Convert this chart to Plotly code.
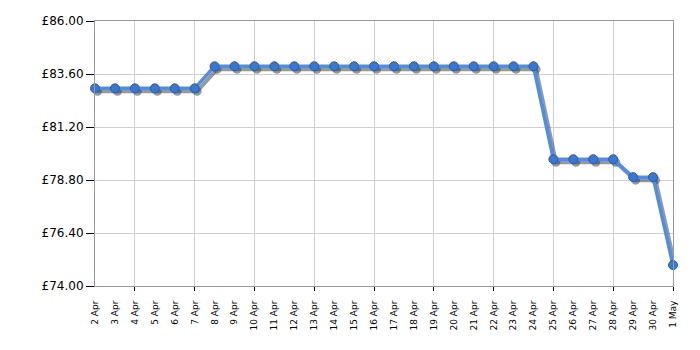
import plotly.graph_objects as go

dates = ["2 Apr", "3 Apr", "4 Apr", "5 Apr", "6 Apr", "7 Apr", "8 Apr", "9 Apr", "10 Apr",
         "11 Apr", "12 Apr", "13 Apr", "14 Apr", "15 Apr", "16 Apr", "17 Apr", "18 Apr",
         "19 Apr", "20 Apr", "21 Apr", "22 Apr", "23 Apr", "24 Apr", "25 Apr", "26 Apr",
         "27 Apr", "28 Apr", "29 Apr", "30 Apr", "1 May"]
prices = [82.95, 82.95, 82.95, 82.95, 82.95, 82.95,
          83.95, 83.95, 83.95, 83.95, 83.95, 83.95, 83.95, 83.95, 83.95, 83.95, 83.95,
          83.95, 83.95, 83.95, 83.95, 83.95, 83.95,
          79.74, 79.74, 79.74, 79.74,
          78.93, 78.93,
          74.95]
y_min, y_max, y_step = 74.0, 86.0, 2.4
grid_every = 3

idx = list(range(len(dates)))
x_max = len(dates) - 1

W, H = 700, 350
ml, mr, mt, mb = 95, 27, 21, 64
pw, ph = W - ml - mr, H - mt - mb
sx, sy = 2.5, 3.0  # shadow offset in px
dx = sx * x_max / pw
dy = sy * (y_max - y_min) / ph

font = "DejaVu Sans, Verdana, sans-serif"

fig = go.Figure()
# main subplot (grid / axes) - invisible carrier trace
fig.add_trace(go.Scatter(x=idx, y=prices, mode="lines", line=dict(width=0), opacity=0,
                         hoverinfo="skip", showlegend=False, xaxis="x", yaxis="y"))
# shadow
fig.add_trace(go.Scatter(x=idx, y=prices, mode="lines+markers",
                         line=dict(color="rgba(70,70,70,0.55)", width=4),
                         marker=dict(size=9, color="rgba(70,70,70,0.55)"),
                         cliponaxis=False, hoverinfo="skip", showlegend=False,
                         xaxis="x2", yaxis="y2"))
# main line
fig.add_trace(go.Scatter(x=idx, y=prices, mode="lines+markers",
                         line=dict(color="#4f8ee4", width=3.5),
                         marker=dict(size=9, color="#3b77d0", line=dict(color="#2b5ba5", width=1)),
                         cliponaxis=False, showlegend=False,
                         xaxis="x3", yaxis="y3"))

grid_vals = [i for i in idx if i % grid_every == 2]

fig.update_layout(
    width=W, height=H,
    margin=dict(l=ml, r=mr, t=mt, b=mb),
    paper_bgcolor="white", plot_bgcolor="white",
    font=dict(family=font, color="#000"),
    xaxis=dict(range=[0, x_max], tickvals=grid_vals, showticklabels=False,
               ticks="outside", ticklen=4, tickcolor="#000",
               showgrid=True, gridcolor="#cfcfcf", gridwidth=1,
               showline=True, linecolor="#9a9a9a", linewidth=1, mirror=True,
               zeroline=False, fixedrange=True),
    yaxis=dict(range=[y_min, y_max], tick0=y_min, dtick=y_step,
               tickprefix="£", tickformat=".2f",
               ticks="outside", ticklen=8, tickcolor="#000",
               tickfont=dict(size=12, family=font, color="#000"),
               showgrid=True, gridcolor="#cfcfcf", gridwidth=1,
               showline=True, linecolor="#9a9a9a", linewidth=1, mirror=True,
               zeroline=False, fixedrange=True),
    xaxis2=dict(overlaying="x", range=[-dx, x_max - dx], visible=False, fixedrange=True),
    yaxis2=dict(overlaying="y", range=[y_min + dy, y_max + dy], visible=False, fixedrange=True),
    xaxis3=dict(overlaying="x", range=[0, x_max], tickvals=idx, ticktext=dates,
                tickangle=-90, ticks="outside", ticklen=10, tickcolor="rgba(0,0,0,0)",
                tickfont=dict(size=9, family=font, color="#000"),
                showgrid=False, zeroline=False, showline=False, fixedrange=True),
    yaxis3=dict(overlaying="y", range=[y_min, y_max], visible=False, fixedrange=True),
)

fig.write_html("out.html")
